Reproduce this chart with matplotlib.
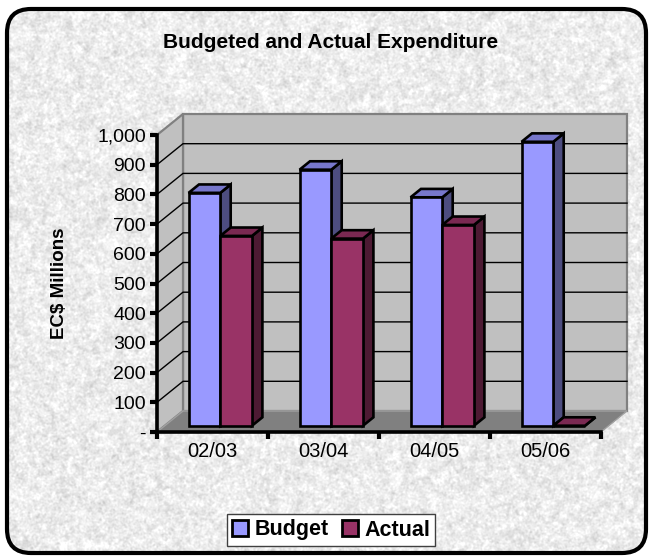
import numpy as np
import matplotlib
matplotlib.use("Agg")
import matplotlib.pyplot as plt
from matplotlib.patches import Polygon, FancyBboxPatch, Patch
from matplotlib.transforms import IdentityTransform

# ---- data -------------------------------------------------------------
categories = ["02/03", "03/04", "04/05", "05/06"]
budget = [784, 862, 769, 956]
actual = [639, 630, 676, 0]
y_ticks = [0, 100, 200, 300, 400, 500, 600, 700, 800, 900, 1000]
y_tick_labels = ["-", "100", "200", "300", "400", "500", "600", "700",
                 "800", "900", "1,000"]
series_names = ["Budget", "Actual"]

# ---- styling ----------------------------------------------------------
plt.rcParams['font.family'] = ['Liberation Sans', 'DejaVu Sans']

W, H = 652, 559
fig = plt.figure(figsize=(W / 100, H / 100), dpi=100)
fig.patch.set_facecolor("white")

# chart area: granite-style fill inside a rounded black frame
bg = fig.add_axes([0, 0, 1, 1])
bg.set_xlim(0, W)
bg.set_ylim(H, 0)
bg.axis("off")


def smooth(a, sigma):
    fy = np.fft.fftfreq(a.shape[0])[:, None]
    fx = np.fft.fftfreq(a.shape[1])[None, :]
    g = np.exp(-2 * (np.pi * sigma) ** 2 * (fx ** 2 + fy ** 2))
    out = np.real(np.fft.ifft2(np.fft.fft2(a) * g))
    return out / out.std()


rng = np.random.default_rng(11)
tex = (0.925
       + 0.028 * smooth(rng.normal(size=(H, W)), 0.8)
       + 0.020 * smooth(rng.normal(size=(H, W)), 2.2))
tex = np.clip(tex, 0.80, 1.0)

frame = FancyBboxPatch((7, 9), 639, 544,
                       boxstyle="round,pad=0,rounding_size=24",
                       fc="none", ec="black", lw=3.0, zorder=3)
img = bg.imshow(tex, cmap="gray", vmin=0, vmax=1, extent=(0, W, H, 0),
                interpolation="bilinear", zorder=1)
bg.add_patch(frame)
img.set_clip_path(frame)

# ---- front plane of the 3-D plot --------------------------------------
ax = fig.add_axes([157 / W, (H - 432) / H, 444 / W, 297 / H])
ax.set_xlim(0, len(categories))
ax.set_ylim(0, 1000)
ax.patch.set_alpha(0)
for side in ("top", "right"):
    ax.spines[side].set_visible(False)
for side in ("left", "bottom"):
    ax.spines[side].set_linewidth(2.6)
    ax.spines[side].set_color("black")
    ax.spines[side].set_zorder(10)

DX, DY = 26.0, 21.0          # depth offset of the back wall, in pixels
D0, D1 = 0.3, 0.7            # depth span of the columns
BAR_W = 1 / 3.5              # gap width 150 %


def px(x, v, d):
    X, Y = ax.transData.transform((x, v))
    return (X + d * DX, Y + d * DY)


def face(points, fc, ec, lw, z):
    p = Polygon(points, closed=True, fc=fc, ec=ec, lw=lw,
                transform=IdentityTransform(), clip_on=False, zorder=z,
                joinstyle="miter")
    ax.add_patch(p)


n = len(categories)
vmax = y_ticks[-1]
# walls and floor
face([px(0, 0, 1), px(n, 0, 1), px(n, vmax, 1), px(0, vmax, 1)],
     "#C0C0C0", "#808080", 1.6, 1)
face([px(0, 0, 0), px(0, 0, 1), px(0, vmax, 1), px(0, vmax, 0)],
     "#C0C0C0", "#808080", 1.6, 1)
face([px(0, 0, 0), px(n, 0, 0), px(n, 0, 1), px(0, 0, 1)],
     "#808080", "#A0A0A0", 1.0, 1.1)

# gridlines on side and back walls
for v in y_ticks[1:-1]:
    pts = np.array([px(0, v, 0), px(0, v, 1), px(n, v, 1)])
    ax.plot(pts[:, 0], pts[:, 1], color="black", lw=1.0,
            transform=IdentityTransform(), clip_on=False, zorder=1.2)

colors = {
    "Budget": ("#9999FF", "#7777CC", "#4D4D80"),
    "Actual": ("#993366", "#7A2952", "#4D1A33"),
}
values = {"Budget": budget, "Actual": actual}

z = 2
for i in range(n):
    for s, name in enumerate(series_names):
        v = values[name][i]
        x0 = i + 0.5 - BAR_W + s * BAR_W
        x1 = x0 + BAR_W
        front_c, top_c, side_c = colors[name]
        face([px(x1, 0, D0), px(x1, 0, D1), px(x1, v, D1), px(x1, v, D0)],
             side_c, "black", 1.9, z)
        face([px(x0, v, D0), px(x1, v, D0), px(x1, v, D1), px(x0, v, D1)],
             top_c, "black", 1.9, z + 0.01)
        face([px(x0, 0, D0), px(x1, 0, D0), px(x1, v, D0), px(x0, v, D0)],
             front_c, "black", 1.9, z + 0.02)
        z += 0.1

# axes ticks and labels
ax.set_yticks(y_ticks, y_tick_labels)
ax.tick_params(axis="y", direction="out", length=5, width=3, labelsize=14,
               pad=3, colors="black")
ax.set_xticks(range(n + 1))
ax.set_xticklabels([])
ax.tick_params(axis="x", which="major", direction="out", length=5, width=3)
ax.set_xticks([i + 0.5 for i in range(n)], minor=True)
ax.set_xticklabels(categories, minor=True)
ax.tick_params(axis="x", which="minor", length=0, labelsize=14.5, pad=7)

fig.text(60 / W, 1 - 283 / H, "EC$ Millions", rotation=90, ha="center",
         va="center", fontsize=13.5, fontweight="bold")
fig.text(331 / W, 1 - 42 / H, "Budgeted and Actual Expenditure",
         ha="center", va="center", fontsize=15, fontweight="bold")

handles = [Patch(facecolor=colors[nm][0], edgecolor="black", linewidth=2)
           for nm in series_names]
leg = fig.legend(handles, series_names, loc="center",
                 bbox_to_anchor=(331 / W, 1 - 530 / H), ncol=2,
                 frameon=True, fancybox=False, framealpha=1,
                 prop={"weight": "bold", "size": 15.5},
                 handlelength=0.75, handleheight=0.75, handletextpad=0.3,
                 columnspacing=0.6, borderpad=0.25, borderaxespad=0)
leg.get_frame().set_edgecolor("#404040")
leg.get_frame().set_linewidth(1.0)

fig.savefig("out.png", dpi=100)
